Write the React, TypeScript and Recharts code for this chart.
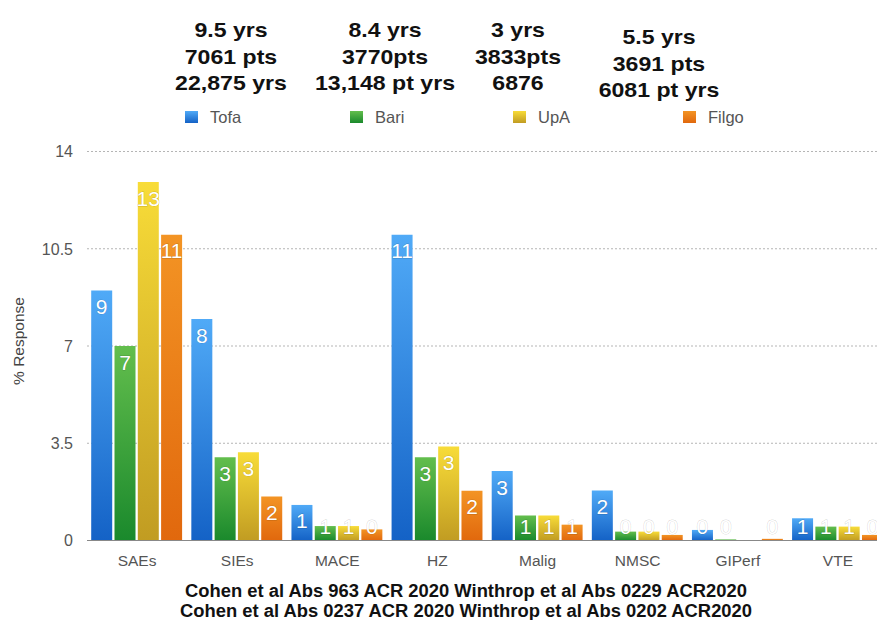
import React from "react";
import { BarChart, Bar, XAxis, YAxis, CartesianGrid, Legend, LabelList } from "recharts";

const categories = ["SAEs", "SIEs", "MACE", "HZ", "Malig", "NMSC", "GIPerf", "VTE"];
const tofaValues = [9.0, 7.97, 1.28, 11.0, 2.5, 1.8, 0.38, 0.8];
const bariValues = [7.0, 3.0, 0.52, 3.0, 0.9, 0.32, 0.04, 0.5];
const upaValues = [12.9, 3.18, 0.52, 3.38, 0.9, 0.32, null, 0.5];
const filgoValues = [11.0, 1.58, 0.4, 1.79, 0.57, 0.2, 0.06, 0.2];
const yTicks = [0, 3.5, 7, 10.5, 14];

const seriesKeys = ["tofa", "bari", "upa", "filgo"];
const seriesNames = ["Tofa", "Bari", "UpA", "Filgo"];
const studyNotes = [
  ["9.5 yrs", "7061 pts", "22,875 yrs"],
  ["8.4 yrs", "3770pts", "13,148 pt yrs"],
  ["3 yrs", "3833pts", "6876"],
  ["5.5 yrs", "3691 pts", "6081 pt yrs"],
];
const sourceLines = [
  "Cohen et al Abs 963 ACR 2020 Winthrop et al Abs 0229 ACR2020",
  "Cohen et al Abs 0237 ACR 2020 Winthrop et al Abs 0202 ACR2020",
];

const FONT = '"Liberation Sans", Arial, Helvetica, sans-serif';

// top / bottom gradient colours per series
const GRADS = [
  ["#50aaf7", "#1462c6"],
  ["#63be4d", "#1a892c"],
  ["#f8dc38", "#c19c22"],
  ["#f39424", "#e1680d"],
];

// header layout (reference pixels)
const noteCenters = [231, 385, 518, 659];
const noteTops = [17, 17, 17, 24];
const swatchLefts = [185, 350, 513, 683];

const data = categories.map((name, i) => ({
  name,
  tofa: tofaValues[i],
  bari: bariValues[i],
  upa: upaValues[i],
  filgo: filgoValues[i],
}));

function Header() {
  return (
    <div style={{ position: "relative", width: 877, height: 140, fontFamily: FONT }}>
      {studyNotes.map((lines, i) => (
        <div
          key={"n" + i}
          style={{
            position: "absolute",
            left: noteCenters[i],
            top: noteTops[i],
            transform: "translateX(-50%) scaleX(1.1)",
            textAlign: "center",
            whiteSpace: "nowrap",
            fontWeight: "bold",
            fontSize: 21,
            lineHeight: "26.7px",
            color: "#111",
          }}
        >
          {lines.map((l) => (
            <div key={l}>{l}</div>
          ))}
        </div>
      ))}
      {seriesNames.map((n, i) => (
        <div
          key={n}
          style={{
            position: "absolute",
            left: swatchLefts[i],
            top: 106,
            height: 22,
            display: "flex",
            alignItems: "center",
            fontSize: 16.5,
            color: "#555",
            whiteSpace: "nowrap",
          }}
        >
          <span
            style={{
              display: "inline-block",
              width: 13,
              height: 12,
              marginRight: 12,
              background: `linear-gradient(${GRADS[i][0]}, ${GRADS[i][1]})`,
            }}
          />
          {n}
        </div>
      ))}
    </div>
  );
}

function BarLabel(props: any) {
  const { x, y, width, height, value } = props;
  if (value == null) return null;
  const bottom = Number(y) + Number(height);
  const cy = Math.min(Number(y) + 16, bottom - 14);
  return (
    <text
      x={Number(x) + Number(width) / 2}
      y={cy}
      dy="0.36em"
      textAnchor="middle"
      fill="#fff"
      stroke="rgba(0,0,0,0.2)"
      strokeWidth={0.8}
      paintOrder="stroke"
      fontSize={21}
      fontFamily={FONT}
    >
      {Math.round(value)}
    </text>
  );
}

function XTick(props: any) {
  const { x, y, payload } = props;
  return (
    <text x={x} y={y + 25.5} textAnchor="middle" fill="#555" fontSize={15.5} fontFamily={FONT}>
      {payload.value}
    </text>
  );
}

function YTick(props: any) {
  const { x, y, payload } = props;
  return (
    <text x={x} y={y} dy="0.36em" textAnchor="end" fill="#555" fontSize={16} fontFamily={FONT}>
      {payload.value}
    </text>
  );
}

export default function App() {
  return (
    <div
      style={{
        position: "absolute",
        left: 0,
        top: 0,
        width: 877,
        height: 620,
        overflow: "hidden",
        background: "#fff",
      }}
    >
      <BarChart
        width={888}
        height={620}
        data={data}
        margin={{ top: 151.5, right: 0, bottom: 0, left: 7 }}
        barCategoryGap={4.2}
        barGap={2.3}
      >
        <defs>
          {GRADS.map((g, i) => (
            <linearGradient key={i} id={"grad" + i} x1="0" y1="0" x2="0" y2="1">
              <stop offset="0%" stopColor={g[0]} />
              <stop offset="100%" stopColor={g[1]} />
            </linearGradient>
          ))}
        </defs>
        <CartesianGrid vertical={false} stroke="#b5b5b5" strokeDasharray="2 2" />
        <XAxis
          dataKey="name"
          height={79.5}
          tickLine={false}
          tickSize={0}
          tickMargin={0}
          axisLine={{ stroke: "#888", strokeWidth: 1.2 }}
          tick={<XTick />}
          interval={0}
        />
        <YAxis
          width={80}
          domain={[0, 14]}
          ticks={yTicks}
          tickLine={false}
          tickSize={0}
          tickMargin={14}
          axisLine={false}
          tick={<YTick />}
          label={() => (
            <text
              x={18}
              y={341}
              transform="rotate(-90, 18, 341)"
              textAnchor="middle"
              dominantBaseline="central"
              fill="#444"
              fontSize={15.5}
              fontFamily={FONT}
            >
              % Response
            </text>
          )}
        />
        <Legend
          verticalAlign="middle"
          align="center"
          layout="horizontal"
          wrapperStyle={{ top: 0, left: 0, width: 877, height: 140 }}
          content={() => <Header />}
        />
        {seriesKeys.map((k, i) => (
          <Bar key={k} dataKey={k} name={seriesNames[i]} fill={`url(#grad${i})`} isAnimationActive={false}>
            <LabelList dataKey={k} content={<BarLabel />} />
          </Bar>
        ))}
      </BarChart>
      <div
        style={{
          position: "absolute",
          left: 466,
          top: 582,
          transform: "translateX(-50%) scaleX(1.05)",
          textAlign: "center",
          whiteSpace: "nowrap",
          fontFamily: FONT,
          fontWeight: "bold",
          fontSize: 17.5,
          lineHeight: "19.6px",
          color: "#111",
        }}
      >
        {sourceLines.map((l) => (
          <div key={l}>{l}</div>
        ))}
      </div>
    </div>
  );
}
